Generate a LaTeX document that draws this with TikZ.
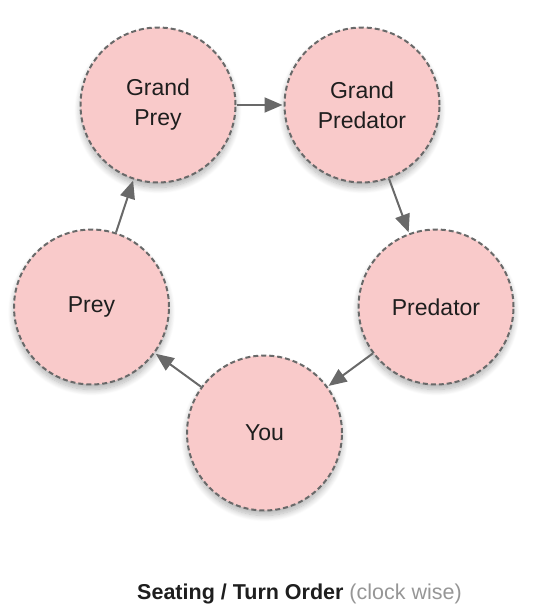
\documentclass[tikz,border=0pt]{standalone}
\usepackage{fontspec}
\setmainfont{Liberation Sans}
\usetikzlibrary{arrows.meta,shadows.blur}
\definecolor{nodefill}{RGB}{249,202,202}
\definecolor{edgegray}{RGB}{105,105,105}
\definecolor{txt}{RGB}{30,30,30}
\definecolor{lightgray}{RGB}{150,150,150}
\tikzset{
  seat/.style={circle, draw=edgegray, fill=nodefill, line width=2pt,
    dash pattern=on 5pt off 3pt, minimum size=155pt, inner sep=0pt,
    align=center, font=\fontsize{23}{30}\selectfont, text=txt,
    blur shadow={shadow xshift=0pt, shadow yshift=-5pt, shadow blur steps=10, shadow opacity=30, shadow blur radius=6pt}},
  turn/.style={draw=edgegray, line width=2pt, -{Triangle[length=18pt,width=15pt]}, shorten >=1pt, shorten <=0pt}
}
\begin{document}
\begin{tikzpicture}[x=1pt,y=-1pt]
\useasboundingbox (0,0) rectangle (542,613);
\node[seat] (gprey) at (158,105) {Grand\\Prey};
\node[seat] (gpred) at (362,105) {Grand\\Predator};
\node[seat] (pred) at (436,307) {Predator};
\node[seat] (you) at (264.5,433) {You};
\node[seat] (prey) at (91.5,307) {Prey};
\draw[turn] (gprey) -- (gpred);
\draw[turn] (gpred) -- (pred);
\draw[turn] (pred) -- (you);
\draw[turn] (you) -- (prey);
\draw[turn] (prey) -- (gprey);
\node[font=\fontsize{21.5}{26}\selectfont, text=txt] (caption) at (299.5,594)
  {\textbf{Seating / Turn Order} \textcolor{lightgray}{(clock wise)}};
\end{tikzpicture}
\end{document}
